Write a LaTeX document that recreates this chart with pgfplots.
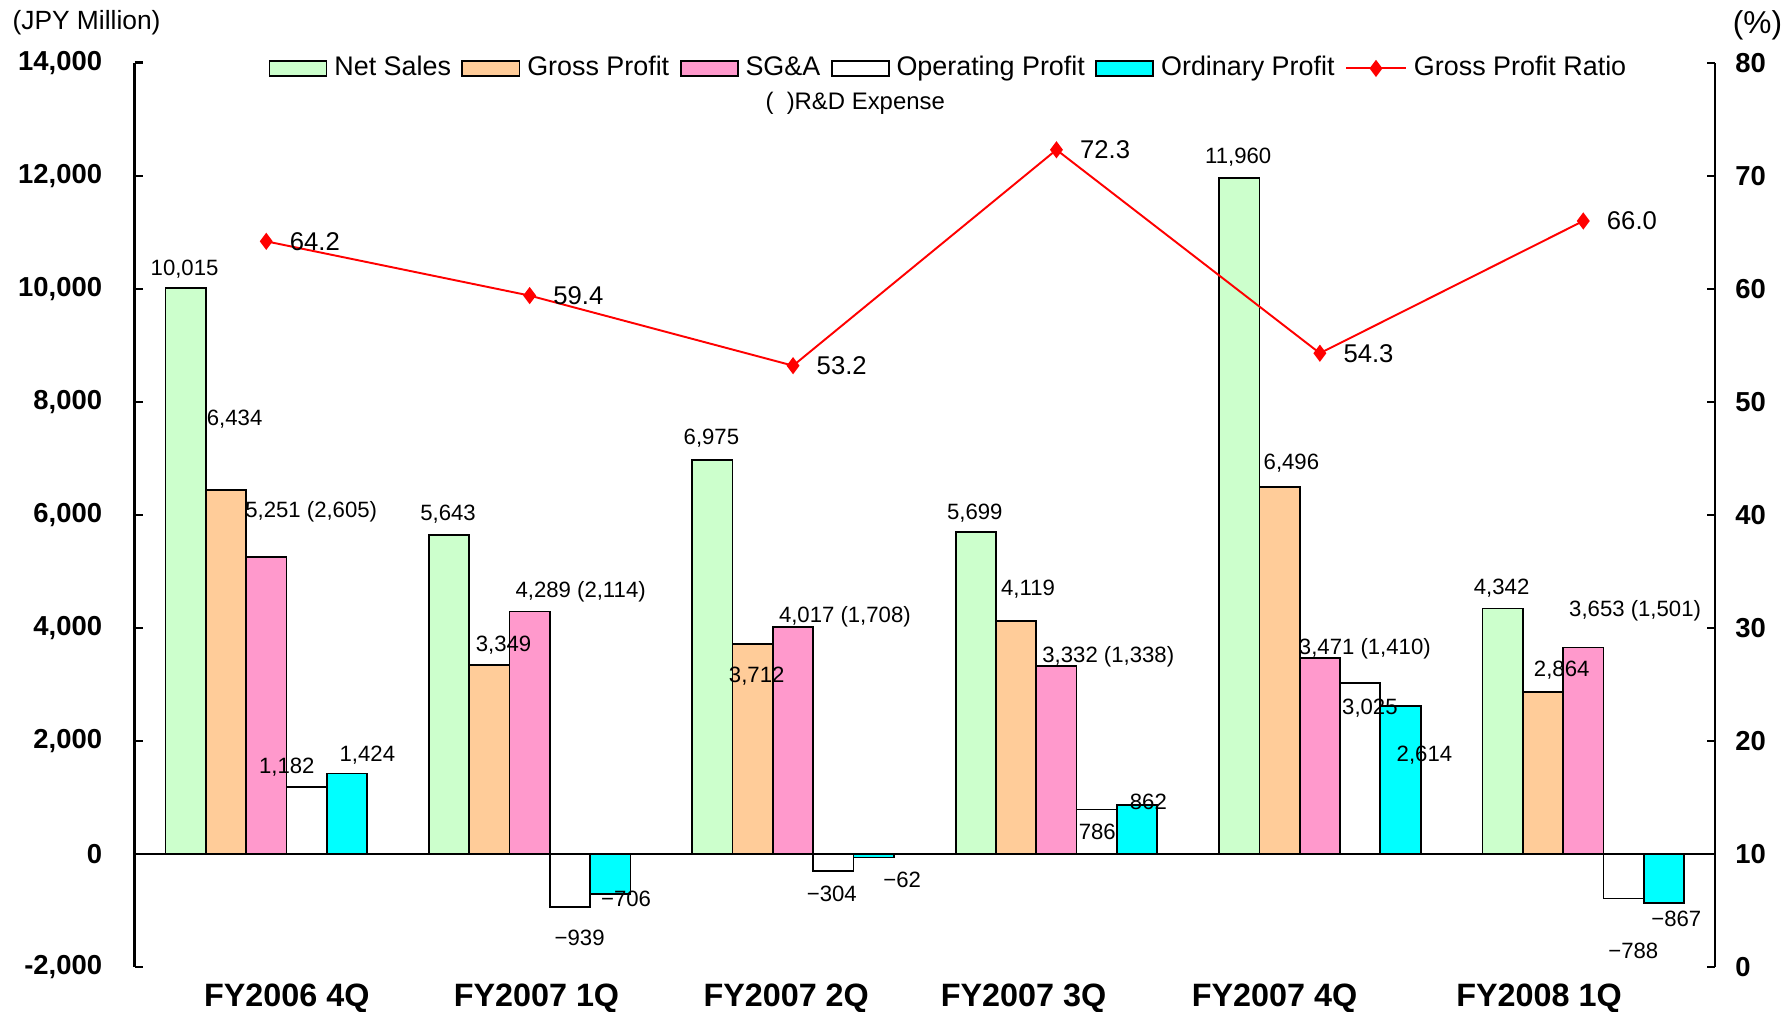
\documentclass[border=0pt]{standalone}
\usepackage{fontspec}
\setmainfont{Liberation Sans}
\usepackage{pgfplots}
\usepackage{pgfplotstable}
\pgfplotsset{compat=1.18}

\definecolor{netsales}{HTML}{CCFFCC}
\definecolor{grossp}{HTML}{FFCC99}
\definecolor{sga}{HTML}{FF99CC}
\definecolor{ordp}{HTML}{00FFFF}

\newcommand\fs[1]{\fontsize{#1}{#1}\selectfont}

% quarterly results, JPY million; ratio in %
\pgfplotstableread{
x sales gross sga op ord ratio
0 10015 6434 5251 1182 1424 64.2
1 5643 3349 4289 -939 -706 59.4
2 6975 3712 4017 -304 -62 53.2
3 5699 4119 3332 786 862 72.3
4 11960 6496 3471 3025 2614 54.3
5 4342 2864 3653 -788 -867 66.0
}\data

\pgfplotsset{
  /pgf/number format/assume math mode=true,
  barbox/.style={ybar, bar width=0.153, draw=black, line width=0.5pt,
    legend image code/.code={\draw[##1] (0mm,-0.75mm) rectangle (5.7mm,0.75mm);}},
}
\tikzset{lbl/.style={font=\fs{6.3}, inner sep=0pt}}

\begin{document}
\begin{tikzpicture}
\begin{axis}[
  name=main, scale only axis, width=158mm, height=90.4mm,
  xmin=-0.5, xmax=5.5, ymin=-2000, ymax=14000,
  axis y line*=left, axis x line*=bottom,
  x axis line style={draw=none},
  % category names sit a little off the group centres, as in the original
  xtick={0.078,1.026,1.974,2.875,3.828,4.832}, xtick style={draw=none},
  xticklabels={FY2006 4Q, FY2007 1Q, FY2007 2Q, FY2007 3Q, FY2007 4Q, FY2008 1Q},
  xticklabel style={font=\fs{9.2}\bfseries, yshift=-0.5mm},
  scaled y ticks=false,
  ytick={-2000,0,2000,4000,6000,8000,10000,12000,14000},
  yticklabels={{-2,000},{0},{2,000},{4,000},{6,000},{8,000},{10,000},{12,000},{14,000}},
  yticklabel style={font=\fs{7.8}\bfseries, xshift=-2mm},
  tick align=inside, major tick length=0.8mm,
  y axis line style={line width=0.7pt}, ytick style={line width=0.7pt, black},
  clip=false,
  legend columns=6,
  legend style={at={(0.0844,0.9937)}, anchor=west, draw=none, fill=none,
    inner sep=0pt, font=\fs{7.65},
    nodes={inner sep=0.4mm},
    /tikz/every odd column/.append style={column sep=0.3mm},
    /tikz/every even column/.append style={column sep=0.65mm}},
]
\addplot[barbox, fill=netsales, bar shift=-0.306] table[x=x, y=sales] {\data};
\addlegendentry{Net Sales}
\addplot[barbox, fill=grossp, bar shift=-0.153] table[x=x, y=gross] {\data};
\addlegendentry{Gross Profit}
\addplot[barbox, fill=sga, bar shift=0] table[x=x, y=sga] {\data};
\addlegendentry{SG\&A}
\addplot[barbox, fill=white, bar shift=0.153] table[x=x, y=op] {\data};
\addlegendentry{Operating Profit}
\addplot[barbox, fill=ordp, bar shift=0.306] table[x=x, y=ord] {\data};
\addlegendentry{Ordinary Profit}
\addlegendimage{red, line width=0.55pt, mark=diamond*, mark size=2pt}
\addlegendentry{Gross Profit Ratio}

\draw[line width=0.7pt] (axis cs:-0.5,0) -- (axis cs:5.5,0);

% value labels
\node[lbl] at (axis cs:-0.31,10349) {10,015};
\node[lbl] at (axis cs:-0.12,7686) {6,434};
\node[lbl, anchor=west] at (axis cs:-0.082,6052) {5,251 (2,605)};
\node[lbl] at (axis cs:0.078,1533) {1,182};
\node[lbl] at (axis cs:0.384,1755) {1,424};

\node[lbl] at (axis cs:0.69,6012) {5,643};
\node[lbl] at (axis cs:0.901,3692) {3,349};
\node[lbl, anchor=west] at (axis cs:0.944,4640) {4,289 (2,114)};
\node[lbl] at (axis cs:1.19,-1493) {−939};
\node[lbl] at (axis cs:1.366,-787) {−706};

\node[lbl] at (axis cs:1.69,7363) {6,975};
\node[lbl] at (axis cs:1.862,3147) {3,712};
\node[lbl, anchor=west] at (axis cs:1.944,4196) {4,017 (1,708)};
\node[lbl] at (axis cs:2.147,-706) {−304};
\node[lbl] at (axis cs:2.414,-464) {−62};

\node[lbl] at (axis cs:2.69,6032) {5,699};
\node[lbl] at (axis cs:2.892,4680) {4,119};
\node[lbl, anchor=west] at (axis cs:2.944,3490) {3,332 (1,338)};
\node[lbl] at (axis cs:3.155,383) {786};
\node[lbl] at (axis cs:3.349,928) {862};

\node[lbl] at (axis cs:3.69,12326) {11,960};
\node[lbl] at (axis cs:3.892,6920) {6,496};
\node[lbl, anchor=west] at (axis cs:3.918,3631) {3,471 (1,410)};
\node[lbl] at (axis cs:4.19,2582) {3,025};
\node[lbl] at (axis cs:4.397,1755) {2,614};

\node[lbl] at (axis cs:4.69,4700) {4,342};
\node[lbl] at (axis cs:4.918,3248) {2,864};
\node[lbl, anchor=west] at (axis cs:4.944,4297) {3,653 (1,501)};
\node[lbl] at (axis cs:5.19,-1715) {−788};
\node[lbl] at (axis cs:5.353,-1150) {−867};

\node[font=\fs{6.8}] at (rel axis cs:0.456,0.955) {(\ \ )R\&D Expense};
\end{axis}

\begin{axis}[
  scale only axis, width=158mm, height=90.4mm,
  xmin=-0.5, xmax=5.5, ymin=0, ymax=80,
  hide x axis, axis y line*=right,
  ytick={0,10,...,80},
  yticklabel style={font=\fs{7.8}\bfseries, xshift=0.8mm},
  tick align=inside, major tick length=0.8mm,
  y axis line style={line width=0.7pt}, ytick style={line width=0.7pt, black},
  clip=false,
]
\addplot[red, line width=0.55pt, mark=diamond*, mark size=2pt,
  point meta=y,
  nodes near coords={\pgfmathprintnumber[fixed, fixed zerofill, precision=1]{\pgfplotspointmeta}},
  every node near coord/.append style={anchor=west, xshift=1.1mm, yshift=0mm,
    font=\fs{7.3}, text=black}]
  table[x=x, y=ratio] {\data};
\end{axis}

\node[font=\fs{7.5}] at ([xshift=-4.8mm, yshift=4mm]main.north west) {(JPY Million)};
\node[font=\fs{9}] at ([xshift=4.25mm, yshift=3.77mm]main.north east) {(\%)};

\pgfresetboundingbox
\path ([xshift=-13.45mm, yshift=-4.45mm]main.south west) rectangle ([xshift=7.2mm, yshift=6.27mm]main.north east);
\end{tikzpicture}
\end{document}
